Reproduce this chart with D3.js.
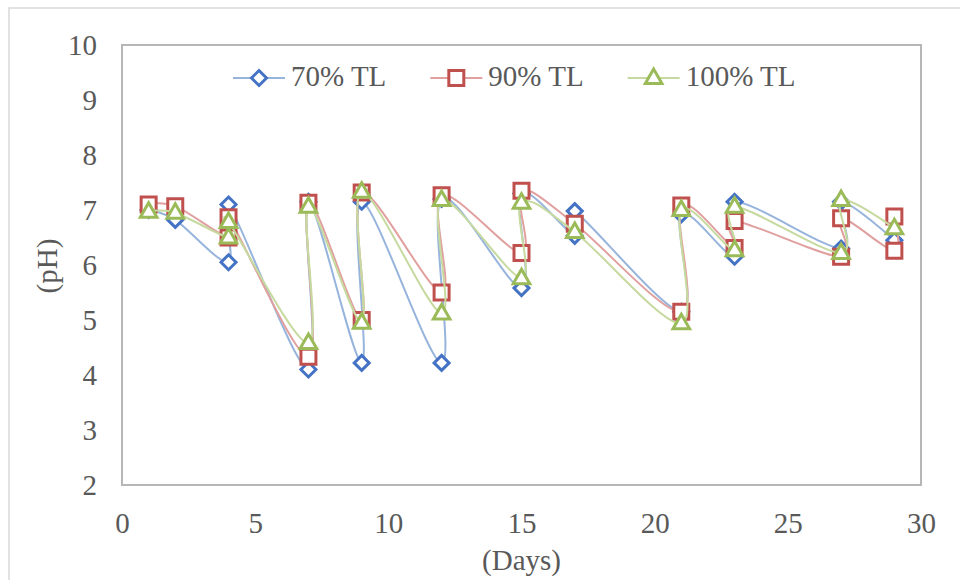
<!DOCTYPE html>
<html>
<head>
<meta charset="utf-8">
<script src="https://cdn.jsdelivr.net/npm/d3@7"></script>
<style>
	body{margin:0;background:#fff;}
	text{font-family:"Liberation Serif","Tinos","DejaVu Serif",serif;fill:#595959;}
</style>
</head>
<body>
<div id="chart"></div>
<script>
// pH readings, two readings on feeding days (before / after)
var days70=[1,2,4,4,7,7,9,9,12,12,15,15,17,17,21,21,23,23,27,27,29];
var ph70=[7.0,6.82,6.05,7.1,4.1,7.15,4.22,7.15,4.22,7.2,5.58,7.3,6.53,6.98,5.15,6.92,6.15,7.15,6.3,7.15,6.45];

var days90=[1,2,4,4,7,7,9,9,12,12,15,15,17,21,21,23,23,27,27,29,29];
var ph90=[7.1,7.07,6.5,6.87,4.33,7.13,5.0,7.32,5.5,7.27,6.22,7.35,6.75,5.15,7.08,6.31,6.8,6.15,6.85,6.26,6.88];

var days100=[1,2,4,4,7,7,9,9,12,12,15,15,17,21,21,23,23,27,27,29];
var ph100=[6.97,6.95,6.5,6.78,4.58,7.06,4.95,7.33,5.12,7.18,5.76,7.13,6.6,4.94,7.0,6.27,7.06,6.22,7.18,6.67];

var seriesNames=["70% TL","90% TL","100% TL"];
var xTicks=[0,5,10,15,20,25,30];
var yTicks=[2,3,4,5,6,7,8,9,10];

var W=960,H=580;
var plotL=122,plotR=921,plotT=45,plotB=485;
var serif="'Liberation Serif','Tinos','DejaVu Serif',serif";

var svg=d3.select("#chart")
	.append("svg")
	.attr("width",W)
	.attr("height",H)
	.style("display","block");

// outer chart frame
svg.append("path")
	.attr("d","M9 "+H+" L9 8 L"+W+" 8")
	.attr("fill","none")
	.attr("stroke","#d9d9d9")
	.attr("stroke-width",1.5);

var x=d3.scaleLinear().domain([0,30]).range([plotL,plotR]);
var y=d3.scaleLinear().domain([2,10]).range([plotB,plotT]);

// plot frame
svg.append("rect")
	.attr("x",plotL)
	.attr("y",plotT)
	.attr("width",plotR-plotL)
	.attr("height",plotB-plotT)
	.attr("fill","none")
	.attr("stroke","#b7b7b7")
	.attr("stroke-width",2);

var xAxis=svg.append("g")
	.attr("transform","translate(0,"+plotB+")")
	.call(d3.axisBottom(x).tickValues(xTicks).tickSize(0).tickPadding(27));
var yAxis=svg.append("g")
	.attr("transform","translate("+plotL+",0)")
	.call(d3.axisLeft(y).tickValues(yTicks).tickSize(0).tickPadding(25));
[xAxis,yAxis].forEach(function(a){
	a.attr("font-family",serif).attr("font-size",29);
	a.select(".domain").remove();
	a.selectAll("text")
		.attr("fill","#595959")
		.style("font-size","29px")
		.style("font-family",serif);
});

svg.append("text")
	.text("(Days)")
	.attr("x",(plotL+plotR)/2)
	.attr("y",570)
	.attr("text-anchor","middle")
	.style("font-family",serif)
	.style("font-size","29px");
svg.append("text")
	.text("(pH)")
	.attr("transform","translate(57,266) rotate(-90)")
	.attr("text-anchor","middle")
	.style("font-family",serif)
	.style("font-size","29px");

function markerPath(kind){
	if(kind=="diamond") return "M0 -7.5 L7.5 0 L0 7.5 L-7.5 0 Z";
	if(kind=="square") return "M-7.5 -7.5 L7.5 -7.5 L7.5 7.5 L-7.5 7.5 Z";
	return "M0 -9 L8.3 5.5 L-8.3 5.5 Z";
}

var series=[
	{name:seriesNames[0],days:days70,ph:ph70,line:"#97b4dc",mark:"#4472c4",kind:"diamond"},
	{name:seriesNames[1],days:days90,ph:ph90,line:"#e0a09f",mark:"#c0504d",kind:"square"},
	{name:seriesNames[2],days:days100,ph:ph100,line:"#c6da9f",mark:"#9bbb59",kind:"triangle"}
];

var line=d3.line()
	.x(function(d){return x(d[0]);})
	.y(function(d){return y(d[1]);})
	.curve(d3.curveCardinal.tension(0));

series.forEach(function(s){
	var pts=s.days.map(function(d,i){return [d,s.ph[i]];});
	var g=svg.append("g").attr("class","series");
	g.append("path")
		.datum(pts)
		.attr("d",line)
		.attr("fill","none")
		.attr("stroke",s.line)
		.attr("stroke-width",2);
	g.selectAll("path.mk")
		.data(pts)
		.enter()
		.append("path")
		.attr("class","mk")
		.attr("d",markerPath(s.kind))
		.attr("transform",function(d){return "translate("+x(d[0])+","+y(d[1])+")";})
		.attr("fill","#fff")
		.attr("stroke",s.mark)
		.attr("stroke-width",3);
});

// legend
var legend=svg.append("g").attr("class","legend");
var lx=233,ly=78;
series.forEach(function(s){
	legend.append("line")
		.attr("x1",lx).attr("x2",lx+52)
		.attr("y1",ly).attr("y2",ly)
		.attr("stroke",s.line)
		.attr("stroke-width",2);
	legend.append("path")
		.attr("d",markerPath(s.kind))
		.attr("transform","translate("+(lx+26)+","+ly+")")
		.attr("fill","#fff")
		.attr("stroke",s.mark)
		.attr("stroke-width",3);
	var t=legend.append("text")
		.text(s.name)
		.attr("x",lx+58)
		.attr("y",ly+8)
		.style("font-family",serif)
		.style("font-size","29px");
	lx=lx+58+t.node().getComputedTextLength()+44;
});
</script>
</body>
</html>
